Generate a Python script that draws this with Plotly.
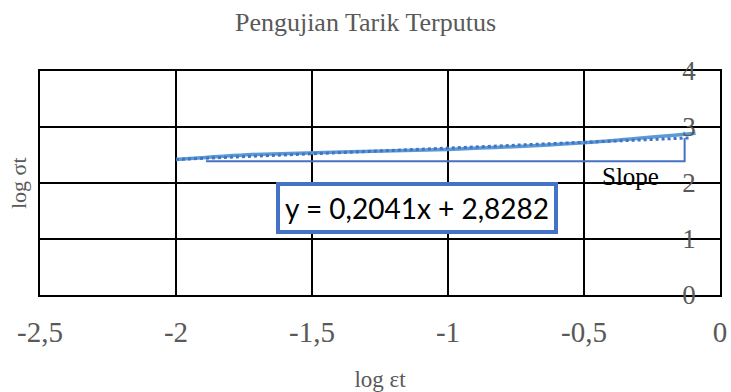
import plotly.graph_objects as go

# ---- data ----
log_eps = [-2.0, -1.72, -1.0, -0.5, -0.09]
log_sigma = [2.42, 2.51, 2.60, 2.72, 2.89]
slope = 0.2041
intercept = 2.8282
eq_text = "y = 0,2041x + 2,8282"

x_tickvals = [-2.5, -2.0, -1.5, -1.0, -0.5, 0.0]
x_ticktext = ["-2,5", "-2", "-1,5", "-1", "-0,5", "0"]
y_tickvals = [0, 1, 2, 3, 4]
y_ticktext = ["0", "1", "2", "3", "4"]

# slope bracket annotation (Excel drawing shape)
bracket_x = [-1.89, -0.13]
bracket_y_low = 2.39

# trendline from equation over data range
trend_x = [min(log_eps), max(log_eps) - 0.02]
trend_y = [slope * v + intercept for v in trend_x]
bracket_y_top = slope * bracket_x[1] + intercept

GRAY = "#595959"
SERIF = "Liberation Serif"

fig = go.Figure()
fig.add_trace(go.Scatter(
    x=log_eps, y=log_sigma, mode="lines",
    line=dict(color="#5B9BD5", width=3.5, shape="spline", smoothing=0.6),
    hoverinfo="skip", showlegend=False))
fig.add_trace(go.Scatter(
    x=trend_x, y=trend_y, mode="lines",
    line=dict(color="#4472C4", width=3, dash="dot"),
    hoverinfo="skip", showlegend=False))

fig.add_shape(type="path",
              path=f"M {bracket_x[0]} {bracket_y_low} L {bracket_x[1]} {bracket_y_low} L {bracket_x[1]} {bracket_y_top}",
              xref="x", yref="y", line=dict(color="#4472C4", width=2))

fig.add_annotation(x=-0.33, y=2.11, xref="x", yref="y", text="Slope", showarrow=False,
                   font=dict(family=SERIF, size=25, color="black"))
fig.add_annotation(x=-1.115, y=1.55, xref="x", yref="y", text=eq_text, showarrow=False,
                   font=dict(family="Lato", size=28, color="black"),
                   bgcolor="white", bordercolor="#4472C4", borderwidth=4, borderpad=5)
fig.add_annotation(x=(18 - 40) / 680, y=0.5, xref="paper", yref="paper", text="log σt",
                   showarrow=False, textangle=-90, xanchor="center",
                   font=dict(family=SERIF, size=22, color=GRAY))

fig.update_layout(
    width=731, height=392,
    margin=dict(l=40, r=11, t=71, b=97, autoexpand=False),
    paper_bgcolor="white", plot_bgcolor="white",
    title=dict(text="Pengujian Tarik Terputus", x=0.5, xanchor="center",
               y=1 - 22 / 392, yanchor="middle", yref="container", automargin=False,
               font=dict(family=SERIF, size=26, color=GRAY)),
    xaxis=dict(range=[-2.5, 0], tickvals=x_tickvals, ticktext=x_ticktext,
               automargin=False, ticklabeloverflow="allow",
               showgrid=True, gridcolor="black", gridwidth=1.5,
               showline=True, linecolor="black", linewidth=1.5, mirror=True,
               zeroline=False, ticks="outside", ticklen=10, tickcolor="rgba(0,0,0,0)",
               tickfont=dict(family=SERIF, size=29, color=GRAY),
               title=dict(text="log εt", standoff=24,
                          font=dict(family=SERIF, size=23, color=GRAY))),
    yaxis=dict(range=[0, 4], tickvals=y_tickvals, ticktext=y_ticktext,
               side="right", ticklabelposition="inside", ticklabeloverflow="allow",
               automargin=False,
               ticks="inside", ticklen=27, tickcolor="rgba(0,0,0,0)",
               showgrid=True, gridcolor="black", gridwidth=1.5,
               showline=True, linecolor="black", linewidth=1.5, mirror=True,
               zeroline=False,
               tickfont=dict(family=SERIF, size=27, color=GRAY)),
    showlegend=False,
)

fig.write_html("out.html", config={"displayModeBar": False},
               post_script="document.body.style.margin='0';document.body.style.overflow='hidden';")
